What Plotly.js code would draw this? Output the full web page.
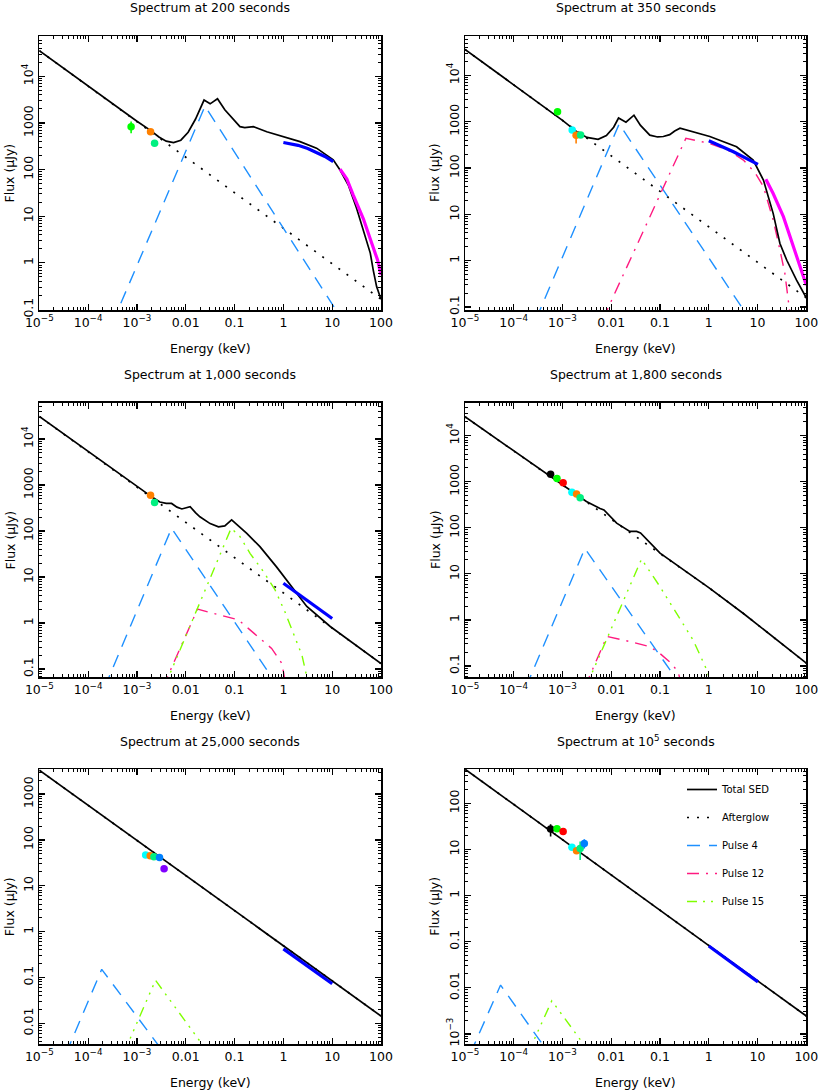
<!DOCTYPE html>
<html><head><meta charset="utf-8">
<script src="https://cdn.plot.ly/plotly-3.0.1.min.js"></script>
<style>html,body{margin:0;padding:0;background:#fff}#chart{width:819px;height:1090px}</style>
</head><body><div id="chart"></div>
<script>
// ---------- tick labels ----------
const xTickVals = [1e-5, 1e-4, 1e-3, 0.01, 0.1, 1, 10, 100];
const xTickText = ['10<sup>−5</sup>', '10<sup>−4</sup>', '10<sup>−3</sup>', '0.01', '0.1', '1', '10', '100'];
const yTickValsA = [0.1, 1, 10, 100, 1000, 1e4];
const yTickTextA = ['0.1', '1', '10', '100', '1000', '10<sup>4</sup>'];
const yTickVals5 = [0.01, 0.1, 1, 10, 100, 1000];
const yTickText5 = ['0.01', '0.1', '1', '10', '100', '1000'];
const yTickVals6 = [1e-3, 0.01, 0.1, 1, 10, 100];
const yTickText6 = ['10<sup>−3</sup>', '0.01', '0.1', '1', '10', '100'];

const panelTitles = ['Spectrum at 200 seconds', 'Spectrum at 350 seconds', 'Spectrum at 1,000 seconds',
  'Spectrum at 1,800 seconds', 'Spectrum at 25,000 seconds', 'Spectrum at 10<sup>5</sup> seconds'];
const xTitle = 'Energy (keV)';
const yTitle = 'Flux (μJy)';
const legendNames = ['Total SED', 'Afterglow', 'Pulse 4', 'Pulse 12', 'Pulse 15'];

// ---------- Panel 1: 200 s ----------
const p1SedE = [1e-5, 1e-4, 1e-3, 1.86e-3, 2.82e-3, 3.98e-3, 5.62e-3, 7.94e-3, 0.0112, 0.0158, 0.020, 0.0237, 0.0316, 0.0447, 0.0631, 0.0955, 0.129, 0.162, 0.243, 0.457, 1.0, 2.19, 4.79, 10.5, 14.5, 21.4, 31.6, 43.7, 60.3, 69.2, 81.3, 100];
const p1SedF = [35500, 6150, 1090, 700, 501, 407, 380, 427, 631, 1200, 2090, 3090, 2570, 3310, 1910, 1150, 832, 794, 832, 646, 513, 398, 288, 162, 98, 46.8, 14.8, 5.1, 1.62, 0.71, 0.31, 0.166];
const p1AgE = [1e-5, 100];
const p1AgF = [35500, 0.166];
const p1P4E = [3.11e-4, 0.0248, 18.0];
const p1P4F = [0.05, 2290, 0.05];
const p1XrtE = [1, 2, 3.16, 5.01, 7.08, 10.5];
const p1XrtF = [380, 331, 282, 229, 191, 148];
const p1BatE = [14.5, 20, 26.9, 43.7, 64.6, 85.1, 100];
const p1BatF = [102, 63, 28.8, 8.7, 2.63, 1.15, 0.55];
const p1PtBand = ['H', 'R', 'V'];
const p1PtE = [7.6e-4, 1.9e-3, 2.3e-3];
const p1PtF = [830, 650, 365];
const p1PtErrHi = [240, 0, 0];
const p1PtErrLo = [230, 0, 0];

// ---------- Panel 2: 350 s ----------
const p2SedE = [1e-5, 1e-4, 1e-3, 1.95e-3, 3.16e-3, 5.37e-3, 7.94e-3, 0.0112, 0.0141, 0.020, 0.0292, 0.0398, 0.0617, 0.0891, 0.117, 0.158, 0.20, 0.257, 0.398, 1.05, 3.72, 8.13, 13.2, 20.9, 28.8, 39.8, 63.1, 100];
const p2SedF = [36300, 6230, 1070, 610, 457, 417, 501, 759, 1200, 977, 1380, 832, 513, 468, 479, 525, 631, 724, 631, 479, 288, 148, 55, 10.5, 2.34, 1.02, 0.38, 0.158];
const p2AgE = [1e-5, 100];
const p2AgF = [36300, 0.158];
const p2P4E = [2.88e-4, 0.0145, 6.9];
const p2P4F = [0.055, 891, 0.055];
const p2P12E = [6.76e-3, 0.339, 1.05, 2.51, 5.13, 8.91, 13.2, 20.9, 28.8, 36.3, 45.7, 50.1];
const p2P12F = [0.055, 437, 339, 240, 148, 79.4, 39.8, 7.59, 1.70, 0.537, 0.079, 0.0316];
const p2XrtE = [1, 3.2, 10.2];
const p2XrtF = [389, 225, 120];
const p2BatE = [14.8, 20.9, 33.9, 53.7, 79.4, 100];
const p2BatF = [57.5, 28.2, 8.9, 2.0, 0.63, 0.295];
const p2PtBand = ['H', 'I', 'R', 'V'];
const p2PtE = [7.9e-4, 1.58e-3, 1.9e-3, 2.35e-3];
const p2PtF = [1630, 660, 513, 515];
const p2PtErrHi = [0, 0, 90, 0];
const p2PtErrLo = [0, 0, 174, 0];

// ---------- Panel 3: 1,000 s ----------
const p3SedE = [1e-5, 1e-4, 1e-3, 1.86e-3, 2.95e-3, 3.98e-3, 5.13e-3, 6.61e-3, 8.32e-3, 0.0123, 0.0158, 0.0195, 0.0316, 0.0468, 0.0631, 0.0871, 0.178, 0.331, 0.724, 1.38, 3.02, 9.12, 100];
const p3SedF = [30900, 5290, 912, 589, 427, 398, 398, 331, 302, 339, 251, 204, 145, 123, 129, 174, 89.1, 45.7, 16.6, 6.76, 2.29, 0.84, 0.132];
const p3AgE = [1e-5, 9.12, 100];
const p3AgF = [30900, 0.84, 0.132];
const p3P4E = [2.19e-4, 5.13e-3, 0.794];
const p3P4F = [0.04, 115, 0.04];
const p3P12E = [3.39e-3, 0.0174, 0.12, 0.282, 0.575, 0.933, 1.07, 1.15];
const p3P12F = [0.04, 2.0, 1.17, 0.55, 0.28, 0.132, 0.068, 0.04];
const p3P15E = [3.63e-3, 0.0851, 0.129, 0.209, 0.389, 0.676, 1.07, 1.74, 2.40, 3.02, 3.47];
const p3P15F = [0.04, 115, 75.9, 32.4, 13.2, 5.25, 1.78, 0.50, 0.20, 0.068, 0.04];
const p3XrtE = [1, 10];
const p3XrtF = [7.3, 1.25];
const p3PtBand = ['R', 'V'];
const p3PtE = [1.9e-3, 2.3e-3];
const p3PtF = [600, 415];
const p3PtErrHi = [0, 0];
const p3PtErrLo = [0, 0];

// ---------- Panel 4: 1,800 s ----------
const p4SedE = [1e-5, 1e-4, 1e-3, 3.09e-3, 5.89e-3, 7.08e-3, 0.0129, 0.024, 0.0331, 0.0398, 0.1, 0.355, 1, 5.13, 100];
const p4SedF = [25700, 4660, 846, 372, 263, 245, 126, 83.2, 83.2, 77.6, 28.2, 11.0, 5.01, 1.38, 0.115];
const p4AgE = [1e-5, 1, 5.13, 100];
const p4AgF = [25700, 5.01, 1.38, 0.115];
const p4P4E = [1.78e-4, 2.88e-3, 0.282];
const p4P4F = [0.035, 35.5, 0.035];
const p4P12E = [2.88e-3, 8.13e-3, 0.024, 0.0617, 0.1, 0.158, 0.234, 0.282];
const p4P12F = [0.035, 0.437, 0.339, 0.263, 0.186, 0.123, 0.0759, 0.035];
const p4P15E = [3.02e-3, 0.0417, 0.1, 0.219, 0.479, 0.912, 1.15];
const p4P15F = [0.035, 20.9, 5.25, 1.38, 0.363, 0.0813, 0.035];
const p4PtBand = ['K', 'H', 'J', 'I', 'R', 'V'];
const p4PtE = [5.7e-4, 7.7e-4, 1.03e-3, 1.56e-3, 1.94e-3, 2.3e-3];
const p4PtF = [1450, 1180, 950, 590, 540, 450];
const p4PtErrHi = [0, 0, 0, 0, 0, 0];
const p4PtErrLo = [0, 0, 0, 0, 0, 0];

// ---------- Panel 5: 25,000 s ----------
const p5SedE = [1e-5, 100];
const p5SedF = [3310, 0.0145];
const p5AgE = [1e-5, 100];
const p5AgF = [3310, 0.0145];
const p5P4E = [3.55e-5, 1.9e-4, 3.63e-3];
const p5P4F = [0.00224, 0.151, 0.00224];
const p5P15E = [5.37e-4, 2.4e-3, 0.0295];
const p5P15F = [0.00224, 0.087, 0.00224];
const p5XrtE = [1, 10];
const p5XrtF = [0.42, 0.073];
const p5PtBand = ['I', 'R', 'V', 'B', 'U'];
const p5PtE = [1.51e-3, 1.87e-3, 2.23e-3, 2.9e-3, 3.6e-3];
const p5PtF = [47, 45, 43, 41.5, 23.5];
const p5PtErrHi = [0, 0, 0, 0, 0];
const p5PtErrLo = [0, 0, 0, 0, 0];

// ---------- Panel 6: 100,000 s ----------
const p6SedE = [1e-5, 100];
const p6SedF = [550, 0.00245];
const p6AgE = [1e-5, 100];
const p6AgF = [550, 0.00245];
const p6P4E = [1.29e-5, 5.37e-5, 5.25e-4];
const p6P4F = [3.8e-4, 0.0115, 3.8e-4];
const p6P15E = [1.95e-4, 6.03e-4, 3.72e-3];
const p6P15F = [3.8e-4, 0.00525, 3.8e-4];
const p6XrtE = [1, 10.2];
const p6XrtF = [0.081, 0.0135];
const p6PtBand = ['K', 'H', 'J', 'I', 'R', 'V', 'B'];
const p6PtE = [5.7e-4, 7.7e-4, 1.03e-3, 1.56e-3, 1.94e-3, 2.3e-3, 2.8e-3];
const p6PtF = [27.7, 28, 24.5, 11.2, 9.4, 10.5, 13.5];
const p6PtErrHi = [7.3, 0, 0, 0, 0, 4.3, 3.1];
const p6PtErrLo = [8.7, 0, 0, 0, 0, 4.6, 3.0];

// ---------- styles ----------
const bandColor = {K: '#000000', H: '#00ff00', J: '#ff0000', I: '#00ffff', R: '#ff8000', V: '#00f080', B: '#0080ff', U: '#8000ff'};
const sty = {
  sed: {color: '#000000', width: 1.7, dash: 'solid'},
  ag: {color: '#000000', width: 1.7, dash: '2px,8px'},
  p4: {color: '#1e90ff', width: 1.4, dash: '13px,9px'},
  p12: {color: '#ff1a80', width: 1.4, dash: '12px,7px,2px,7px'},
  p15: {color: '#7fff00', width: 1.4, dash: '10px,6px,2px,6px,2px,6px,2px,6px'},
  xrt: {color: '#0000ff', width: 3.2, dash: 'solid'},
  bat: {color: '#ff00ff', width: 3.2, dash: 'solid'}
};

const panels = [
  {sed: [p1SedE, p1SedF], ag: [p1AgE, p1AgF], p4: [p1P4E, p1P4F], p12: null, p15: null, xrt: [p1XrtE, p1XrtF], bat: [p1BatE, p1BatF], pts: [p1PtBand, p1PtE, p1PtF, p1PtErrHi, p1PtErrLo], yv: yTickValsA, yt: yTickTextA, yr: [-1.01, 4.864]},
  {sed: [p2SedE, p2SedF], ag: [p2AgE, p2AgF], p4: [p2P4E, p2P4F], p12: [p2P12E, p2P12F], p15: null, xrt: [p2XrtE, p2XrtF], bat: [p2BatE, p2BatF], pts: [p2PtBand, p2PtE, p2PtF, p2PtErrHi, p2PtErrLo], yv: yTickValsA, yt: yTickTextA, yr: [-1.065, 4.85]},
  {sed: [p3SedE, p3SedF], ag: [p3AgE, p3AgF], p4: [p3P4E, p3P4F], p12: [p3P12E, p3P12F], p15: [p3P15E, p3P15F], xrt: [p3XrtE, p3XrtF], bat: null, pts: [p3PtBand, p3PtE, p3PtF, p3PtErrHi, p3PtErrLo], yv: yTickValsA, yt: yTickTextA, yr: [-1.18, 4.79]},
  {sed: [p4SedE, p4SedF], ag: [p4AgE, p4AgF], p4: [p4P4E, p4P4F], p12: [p4P12E, p4P12F], p15: [p4P15E, p4P15F], xrt: null, bat: null, pts: [p4PtBand, p4PtE, p4PtF, p4PtErrHi, p4PtErrLo], yv: yTickValsA, yt: yTickTextA, yr: [-1.246, 4.716]},
  {sed: [p5SedE, p5SedF], ag: [p5AgE, p5AgF], p4: [p5P4E, p5P4F], p12: null, p15: [p5P15E, p5P15F], xrt: [p5XrtE, p5XrtF], bat: null, pts: [p5PtBand, p5PtE, p5PtF, p5PtErrHi, p5PtErrLo], yv: yTickVals5, yt: yTickText5, yr: [-2.45, 3.54]},
  {sed: [p6SedE, p6SedF], ag: [p6AgE, p6AgF], p4: [p6P4E, p6P4F], p12: null, p15: [p6P15E, p6P15F], xrt: [p6XrtE, p6XrtF], bat: null, pts: [p6PtBand, p6PtE, p6PtF, p6PtErrHi, p6PtErrLo], yv: yTickVals6, yt: yTickText6, yr: [-3.217, 2.737]}
];

// legend entries: which panel/component provides each
const legendSrc = {sed: [0, 1], ag: [0, 2], p4: [0, 3], p12: [1, 4], p15: [2, 5]};
const compName = {sed: legendNames[0], ag: legendNames[1], p4: legendNames[2], p12: legendNames[3], p15: legendNames[4], xrt: 'XRT', bat: 'BAT'};

// ---------- geometry (px) ----------
const W = 819, H = 1090;
const colPx = [[39.3, 381], [465, 806.3]];
const rowPx = [[36, 310], [402.7, 677.3], [769.3, 1044]];
const font = 'DejaVu Sans, sans-serif';

const traces = [];
const layout = {
  width: W, height: H, margin: {l: 0, r: 0, t: 0, b: 0},
  paper_bgcolor: '#fff', plot_bgcolor: '#fff',
  font: {family: font, color: '#000', size: 12},
  showlegend: true,
  legend: {x: 682 / W, xanchor: 'left', y: 1 - 775 / H, yanchor: 'top', font: {family: font, size: 10, color: '#000'},
    bgcolor: 'rgba(0,0,0,0)', borderwidth: 0, traceorder: 'grouped', tracegroupgap: 9, itemclick: false, itemdoubleclick: false},
  annotations: [], shapes: []
};

function minorVals(lo, hi) {
  const v = [];
  for (let d = Math.floor(lo) - 1; d <= Math.ceil(hi); d++) {
    for (let k = 2; k <= 9; k++) {
      const val = k * Math.pow(10, d);
      const lv = Math.log10(val);
      if (lv > lo && lv < hi) v.push(val);
    }
  }
  return v;
}

panels.forEach((p, i) => {
  const n = i === 0 ? '' : String(i + 1);
  const xa = 'x' + n, ya = 'y' + n;
  const c = colPx[i % 2], r = rowPx[Math.floor(i / 2)];
  const axCommon = {
    type: 'log', showline: true, linecolor: '#000', linewidth: 1.5, mirror: 'allticks',
    ticks: 'inside', ticklen: 6, tickwidth: 1.2, tickcolor: '#000', showgrid: false, zeroline: false,
    tickmode: 'array', tickfont: {family: font, size: 12.5, color: '#000'}, fixedrange: true
  };
  layout['xaxis' + n] = Object.assign({}, axCommon, {
    domain: [c[0] / W, c[1] / W], anchor: ya, range: [-5, 2],
    tickvals: xTickVals, ticktext: xTickText,
    minor: {ticks: 'inside', ticklen: 3, tickwidth: 1, tickcolor: '#000', tickmode: 'array', tickvals: minorVals(-5, 2), showgrid: false}
  });
  layout['yaxis' + n] = Object.assign({}, axCommon, {
    domain: [1 - r[1] / H, 1 - r[0] / H], anchor: xa, range: p.yr,
    tickvals: p.yv, ticktext: p.yt, tickangle: -90,
    minor: {ticks: 'inside', ticklen: 3, tickwidth: 1, tickcolor: '#000', tickmode: 'array', tickvals: minorVals(p.yr[0], p.yr[1]), showgrid: false}
  });

  const order = ['ag', 'p4', 'p12', 'p15', 'sed', 'xrt', 'bat'];
  order.forEach(k => {
    if (!p[k]) return;
    const s = sty[k];
    const leg = legendSrc[k] && legendSrc[k][0] === i;
    traces.push({
      type: 'scatter', mode: 'lines', x: p[k][0], y: p[k][1], xaxis: xa, yaxis: ya,
      name: compName[k], line: {color: s.color, width: s.width, dash: s.dash},
      showlegend: !!leg, legendgroup: leg ? ('g' + legendSrc[k][1]) : undefined,
      legendrank: leg ? legendSrc[k][1] : 1000, hoverinfo: 'skip'
    });
  });
  const [band, E, F, hi, lo] = p.pts;
  band.forEach((b, j) => {
    const hasErr = hi[j] > 0 || lo[j] > 0;
    traces.push({
      type: 'scatter', mode: 'markers', x: [E[j]], y: [F[j]], xaxis: xa, yaxis: ya,
      name: b, showlegend: false,
      marker: {color: bandColor[b], size: 7.5, line: {width: 0}},
      error_y: {type: 'data', symmetric: false, array: [hi[j]], arrayminus: [lo[j]], visible: hasErr,
        color: bandColor[b], thickness: 1.6, width: 0}
    });
  });

  const cx = (c[0] + c[1]) / 2 / W;
  const tY = [7, 7, 374, 374, 741, 741][i];
  const xtY = [348, 348, 715, 715, 1082, 1082][i];
  const ytX = i % 2 === 0 ? 9.5 : 435;
  layout.annotations.push(
    {text: panelTitles[i], xref: 'paper', yref: 'paper', x: cx, y: 1 - tY / H, xanchor: 'center', yanchor: 'middle', showarrow: false, font: {family: font, size: 12.5, color: '#000'}},
    {text: xTitle, xref: 'paper', yref: 'paper', x: cx, y: 1 - xtY / H, xanchor: 'center', yanchor: 'middle', showarrow: false, font: {family: font, size: 12.5, color: '#000'}},
    {text: yTitle, xref: 'paper', yref: 'paper', x: ytX / W, y: 1 - (r[0] + r[1]) / 2 / H, xanchor: 'center', yanchor: 'middle', textangle: -90, showarrow: false, font: {family: font, size: 12.5, color: '#000'}}
  );
});

Plotly.newPlot('chart', traces, layout, {staticPlot: true, displayModeBar: false});
</script></body></html>
